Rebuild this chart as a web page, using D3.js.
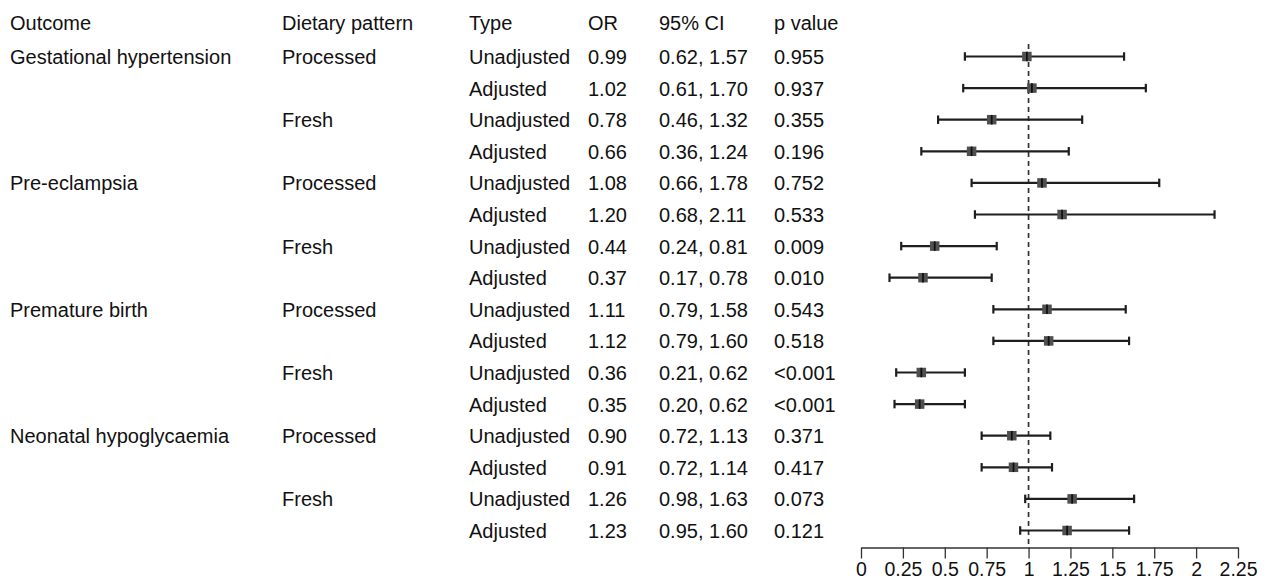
<!DOCTYPE html>
<html>
<head>
<meta charset="utf-8">
<script src="https://cdn.jsdelivr.net/npm/d3@7"></script>
<style>
  html, body { margin: 0; padding: 0; background: #fff; }
  svg { display: block; }
  text { font-family: "Liberation Sans", Arial, sans-serif; fill: #111; }
</style>
</head>
<body>
<svg id="chart" width="1266" height="581"></svg>
<script>
const headers = ["Outcome", "Dietary pattern", "Type", "OR", "95% CI", "p value"];
const outcomes = ["Gestational hypertension", "Pre-eclampsia", "Premature birth", "Neonatal hypoglycaemia"];
const patterns = ["Processed", "Fresh"];
const types = ["Unadjusted", "Adjusted"];
const oddsRatios = [0.99, 1.02, 0.78, 0.66, 1.08, 1.20, 0.44, 0.37, 1.11, 1.12, 0.36, 0.35, 0.90, 0.91, 1.26, 1.23];
const ciLower    = [0.62, 0.61, 0.46, 0.36, 0.66, 0.68, 0.24, 0.17, 0.79, 0.79, 0.21, 0.20, 0.72, 0.72, 0.98, 0.95];
const ciUpper    = [1.57, 1.70, 1.32, 1.24, 1.78, 2.11, 0.81, 0.78, 1.58, 1.60, 0.62, 0.62, 1.13, 1.14, 1.63, 1.60];
const pValues    = ["0.955", "0.937", "0.355", "0.196", "0.752", "0.533", "0.009", "0.010", "0.543", "0.518", "<0.001", "<0.001", "0.371", "0.417", "0.073", "0.121"];
const tickValues = [0, 0.25, 0.5, 0.75, 1, 1.25, 1.5, 1.75, 2, 2.25];
const refValue = 1;

// build rows
const rows = [];
outcomes.forEach((o, oi) => {
  patterns.forEach((p, pi) => {
    types.forEach((t, ti) => {
      const i = oi * 4 + pi * 2 + ti;
      rows.push({
        i,
        outcome: (pi === 0 && ti === 0) ? o : "",
        pattern: ti === 0 ? p : "",
        type: t,
        or: oddsRatios[i],
        lo: ciLower[i],
        hi: ciUpper[i],
        orText: oddsRatios[i].toFixed(2),
        ciText: ciLower[i].toFixed(2) + ", " + ciUpper[i].toFixed(2),
        p: pValues[i]
      });
    });
  });
});

const svg = d3.select("#chart");
const fontSize = 20;

const x = d3.scaleLinear().domain([0, 2.25]).range([861, 1238]);
const y = d3.scalePoint().domain(d3.range(rows.length)).range([56.5, 530.5]);
const colX = [10, 282, 469, 588, 659, 774];
const headerBaseline = 30;
const baselineOffset = 7.5;

// header
svg.append("g").selectAll("text").data(headers).join("text")
  .attr("x", (d, i) => colX[i])
  .attr("y", headerBaseline)
  .attr("font-size", fontSize)
  .text(d => d);

// table text
const cols = [r => r.outcome, r => r.pattern, r => r.type, r => r.orText, r => r.ciText, r => r.p];
const tg = svg.append("g");
rows.forEach(r => {
  cols.forEach((f, ci) => {
    const s = f(r);
    if (!s) return;
    tg.append("text")
      .attr("x", colX[ci])
      .attr("y", y(r.i) + baselineOffset)
      .attr("font-size", fontSize)
      .text(s);
  });
});

// reference line
svg.append("line")
  .attr("x1", x(refValue)).attr("x2", x(refValue))
  .attr("y1", 44).attr("y2", 547.5)
  .attr("stroke", "#333").attr("stroke-width", 1.7)
  .attr("stroke-dasharray", "5,4");

// CIs
const pg = svg.append("g");
const capH = 8.5;
rows.forEach(r => {
  const cy = y(r.i);
  pg.append("line")
    .attr("x1", x(r.lo)).attr("x2", x(r.hi))
    .attr("y1", cy).attr("y2", cy)
    .attr("stroke", "#1e1e1e").attr("stroke-width", 2.2);
  [r.lo, r.hi].forEach(v => {
    pg.append("line")
      .attr("x1", x(v)).attr("x2", x(v))
      .attr("y1", cy - capH / 2).attr("y2", cy + capH / 2)
      .attr("stroke", "#1e1e1e").attr("stroke-width", 2.2);
  });
  const s = 9.5;
  pg.append("rect")
    .attr("x", x(r.or) - s / 2).attr("y", cy - s / 2)
    .attr("width", s).attr("height", s)
    .attr("fill", "#505050");
  pg.append("line")
    .attr("x1", x(r.or)).attr("x2", x(r.or))
    .attr("y1", cy - s / 2).attr("y2", cy + s / 2)
    .attr("stroke", "#111").attr("stroke-width", 1.8);
});

// axis
const axis = d3.axisBottom(x)
  .tickValues(tickValues)
  .tickSize(11)
  .tickSizeOuter(0)
  .tickPadding(4)
  .tickFormat(d => String(d));
const ag = svg.append("g")
  .attr("transform", "translate(0,547.5)")
  .call(axis);
ag.select(".domain").attr("stroke", "#333").attr("stroke-width", 1.3);
ag.selectAll(".tick line").attr("stroke", "#333").attr("stroke-width", 1.3);
ag.selectAll(".tick text")
  .attr("font-family", "'Liberation Sans', Arial, sans-serif")
  .attr("font-size", 19.5)
  .attr("fill", "#111");
</script>
</body>
</html>
